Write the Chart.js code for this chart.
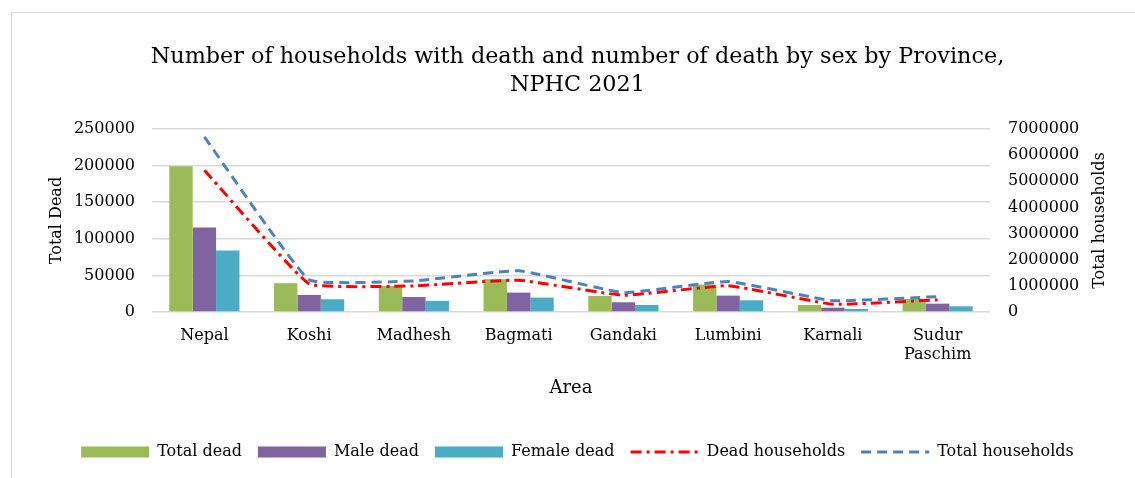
<!DOCTYPE html>
<html>
<head>
<meta charset="utf-8">
<script src="https://cdn.jsdelivr.net/npm/chart.js@4.4.0/dist/chart.umd.min.js"></script>
<style>
    html, body { margin: 0; padding: 0; background: #fff; }
    #wrap { position: relative; width: 1135px; height: 478px; overflow: hidden; }
    #frame { position: absolute; left: 11px; top: 12px; width: 1200px; height: 500px; border-left: 1px solid #d9d9d9; border-top: 1px solid #d9d9d9; }
    canvas { position: absolute; left: 0; top: 0; }
</style>
</head>
<body>
<div id="wrap">
    <div id="frame"></div>
    <canvas id="chart" width="1135" height="478"></canvas>
</div>
<script>
const areas = ['Nepal', 'Koshi', 'Madhesh', 'Bagmati', 'Gandaki', 'Lumbini', 'Karnali', ['Sudur', 'Paschim']];
const totalDead = [199000, 39400, 35700, 44900, 22000, 37500, 9600, 17900];
const maleDead = [115500, 23300, 20500, 26500, 13300, 22400, 5900, 11400];
const femaleDead = [84000, 17400, 15200, 19700, 9600, 16000, 4100, 7800];
const deadHouseholds = [193700, 38500, 35700, 43500, 22800, 36000, 10500, 16500];
const totalHouseholds = [6700000, 1230000, 1190000, 1580000, 740000, 1170000, 430000, 590000];
const leftTicks = [0, 50000, 100000, 150000, 200000, 250000];
const rightTicks = [0, 1000000, 2000000, 3000000, 4000000, 5000000, 6000000, 7000000];

const serif = "'DejaVu Serif', 'Liberation Serif', serif";
const redDash = [11, 5, 3, 5];
const blueDash = [10, 6];

// right axis title reads bottom-to-top like the left one
const rightTitle = {
    id: 'rightTitle',
    afterDraw(chart) {
        const ctx = chart.ctx;
        const area = chart.chartArea;
        ctx.save();
        ctx.translate(area.right + 110, (area.top + area.bottom) / 2);
        ctx.rotate(-Math.PI / 2);
        ctx.font = '16px ' + serif;
        ctx.fillStyle = '#000';
        ctx.textAlign = 'center';
        ctx.textBaseline = 'middle';
        ctx.fillText('Total households', 0, 0);
        ctx.restore();
    }
};

new Chart(document.getElementById('chart'), {
    type: 'bar',
    data: {
        labels: areas,
        datasets: [
            { label: 'Total dead', data: totalDead, backgroundColor: '#9BBB59', yAxisID: 'y' },
            { label: 'Male dead', data: maleDead, backgroundColor: '#8064A2', yAxisID: 'y' },
            { label: 'Female dead', data: femaleDead, backgroundColor: '#4BACC6', yAxisID: 'y' },
            {
                type: 'line', label: 'Dead households', data: deadHouseholds, yAxisID: 'y',
                borderColor: '#FF0000', backgroundColor: '#FF0000', borderWidth: 3,
                borderDash: redDash, segment: { borderDash: () => redDash },
                tension: 0.1, pointRadius: 0, order: -1
            },
            {
                type: 'line', label: 'Total households', data: totalHouseholds, yAxisID: 'y1',
                borderColor: '#4F81BD', backgroundColor: '#4F81BD', borderWidth: 3,
                borderDash: blueDash, segment: { borderDash: () => blueDash },
                tension: 0.1, pointRadius: 0, order: -1
            }
        ]
    },
    options: {
        responsive: false,
        animation: false,
        layout: { padding: { left: 40, right: 20, top: 0, bottom: 8 } },
        datasets: { bar: { categoryPercentage: 0.67, barPercentage: 1 } },
        plugins: {
            tooltip: { enabled: false },
            title: {
                display: true,
                text: ['Number of households with death and number of death by sex by Province,', 'NPHC 2021'],
                color: '#000',
                font: { family: serif, size: 22.3, weight: 'normal', lineHeight: 1.256 },
                padding: { top: 43, bottom: 30 }
            },
            legend: {
                position: 'bottom',
                labels: {
                    color: '#000',
                    font: { family: serif, size: 16 },
                    usePointStyle: true,
                    boxHeight: 11,
                    pointStyleWidth: 68,
                    padding: 16,
                    sort: (a, b) => a.datasetIndex - b.datasetIndex,
                    generateLabels(chart) {
                        const items = Chart.defaults.plugins.legend.labels.generateLabels(chart);
                        items.forEach(item => {
                            const ds = chart.data.datasets[item.datasetIndex];
                            if (ds.type === 'line') {
                                item.pointStyle = 'line';
                                item.lineWidth = 3;
                                item.lineDash = ds.borderDash;
                            } else {
                                item.pointStyle = 'rect';
                                item.lineWidth = 0;
                            }
                        });
                        return items;
                    }
                }
            }
        },
        scales: {
            x: {
                afterFit(scale) { scale.height = 116; },
                grid: { display: false },
                border: { display: false },
                ticks: { color: '#000', font: { family: serif, size: 16 }, padding: 6, maxRotation: 0 },
                title: { display: true, text: 'Area', color: '#000', font: { family: serif, size: 18 }, padding: { top: 0, bottom: 29 } }
            },
            y: {
                position: 'left',
                min: 0, max: 250000,
                afterBuildTicks(scale) { scale.ticks = leftTicks.map(v => ({ value: v })); },
                afterFit(scale) { scale.width = 112; },
                grid: { color: '#d9d9d9', lineWidth: 1.5, drawTicks: false },
                border: { display: false },
                ticks: { color: '#000', font: { family: serif, size: 16 }, padding: 17, callback: v => String(v) },
                title: { display: true, text: 'Total Dead', color: '#000', font: { family: serif, size: 16 }, padding: { top: 7, bottom: 0 } }
            },
            y1: {
                position: 'right',
                min: 0, max: 7000000,
                afterBuildTicks(scale) { scale.ticks = rightTicks.map(v => ({ value: v })); },
                afterFit(scale) { scale.width = 125; },
                grid: { display: false, drawTicks: false },
                border: { display: false },
                ticks: { color: '#000', font: { family: serif, size: 16 }, padding: 18, callback: v => String(v) }
            }
        }
    },
    plugins: [rightTitle]
});
</script>
</body>
</html>
